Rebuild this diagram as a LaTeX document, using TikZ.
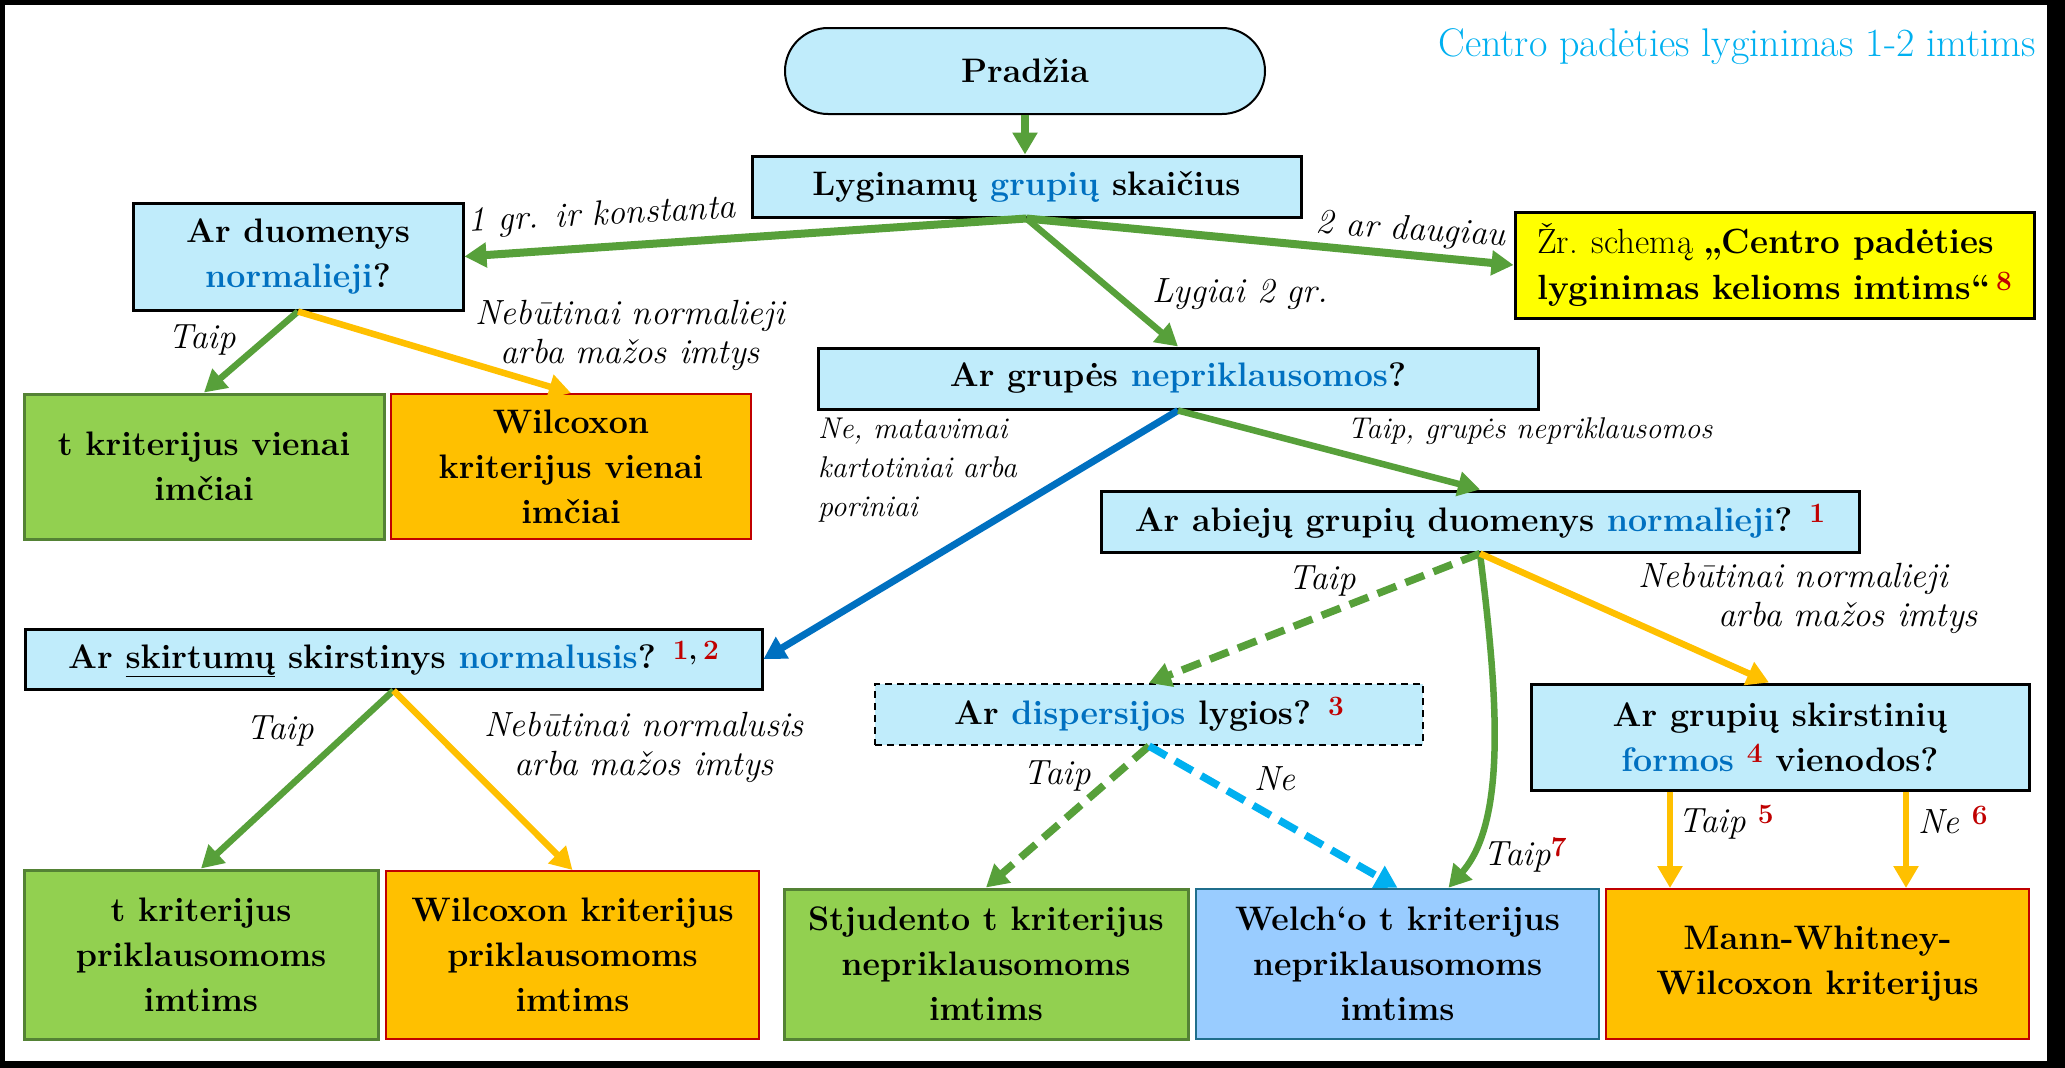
\documentclass[tikz,border=0pt]{standalone}
\usetikzlibrary{arrows.meta,shapes.misc,calc}
\definecolor{qfill}{RGB}{192,236,251}
\definecolor{qblue}{RGB}{0,112,192}
\definecolor{agreen}{RGB}{87,160,58}
\definecolor{ayellow}{RGB}{255,192,0}
\definecolor{acyan}{RGB}{0,176,240}
\definecolor{gfill}{RGB}{146,208,80}
\definecolor{gdraw}{RGB}{84,130,53}
\definecolor{ofill}{RGB}{255,192,0}
\definecolor{odraw}{RGB}{192,0,0}
\definecolor{wfill}{RGB}{153,204,255}
\definecolor{wdraw}{RGB}{31,110,140}
\definecolor{supred}{RGB}{192,0,0}
\definecolor{ybfill}{RGB}{255,255,0}
\newcommand{\qb}[1]{\textcolor{qblue}{#1}}
\newcommand{\rsup}[1]{\raisebox{9pt}{\fontsize{28}{28}\selectfont\bfseries\upshape\textcolor{supred}{#1}}}
\newcommand{\ksup}[1]{\raisebox{9pt}{\fontsize{28}{28}\selectfont\bfseries\upshape #1}}
\begin{document}
\begin{tikzpicture}[x=1pt,y=-1pt,
  box/.style={draw, line width=3pt, align=center, inner sep=0pt, font=\fontsize{34}{45}\selectfont\bfseries},
  qbox/.style={box, fill=qfill, draw=black},
  gbox/.style={box, fill=gfill, draw=gdraw},
  obox/.style={box, fill=ofill, draw=odraw, line width=2pt},
  wbox/.style={box, fill=wfill, draw=wdraw, line width=2.5pt},
  lbl/.style={font=\fontsize{35}{39}\selectfont\itshape, inner sep=0pt, align=center},
  slbl/.style={font=\fontsize{30}{39}\selectfont\itshape, inner sep=0pt, align=left},
  arr/.style={line width=6.5pt, -{Triangle[width=24pt,length=22pt]}},
  dsh/.style={dash pattern=on 20pt off 10pt}
]
\useasboundingbox (0,0) rectangle (2065,1068);
\fill[black] (0,0) rectangle (2065,1068);
\fill[white] (5,5) rectangle (2047,1061);

% title
\node[anchor=base east, font=\fontsize{40}{46}\selectfont, text=acyan, inner sep=0pt] (title) at (2036,56) {Centro padėties lyginimas 1-2 imtims};

% boxes
\node[qbox, shape=rounded rectangle, line width=2pt, minimum width=480pt, minimum height=86pt] (start) at (1025,71) {Pradžia};
\node[qbox, minimum width=549pt, minimum height=61pt] (lyg) at (1026.5,186.5) {Lyginamų \qb{grupių} skaičius};
\node[qbox, minimum width=330pt, minimum height=107pt] (dm) at (298,256.5) {Ar duomenys\\\qb{normalieji}?};
\node[box, fill=ybfill, draw=black, align=left, minimum width=519pt, minimum height=106pt, font=\fontsize{35}{46}\selectfont] (yb) at (1774.5,265) {Žr. schemą \textbf{„Centro padėties}\\\textbf{lyginimas kelioms imtims“}\,\rsup{8}};
\node[qbox, minimum width=720pt, minimum height=61pt] (grp) at (1178,378.5) {Ar grupės \qb{nepriklausomos}?};
\node[qbox, minimum width=758pt, minimum height=61pt] (ab) at (1480,521.5) {Ar abiejų grupių duomenys \qb{normalieji}? \rsup{1}};
\node[gbox, minimum width=360pt, minimum height=145pt] (tk1) at (204,466.5) {t kriterijus vienai\\imčiai};
\node[obox, minimum width=360pt, minimum height=145pt] (wil1) at (571,466.5) {Wilcoxon\\kriterijus vienai\\imčiai};
\node[qbox, minimum width=737pt, minimum height=60pt] (sk) at (393.5,659) {Ar \underline{skirtumų} skirstinys \qb{normalusis}? \rsup{1}\ksup{,}\,\rsup{2}};
\node[qbox, line width=2pt, dash pattern=on 7pt off 5pt, minimum width=548pt, minimum height=61pt] (disp) at (1149,714.5) {Ar \qb{dispersijos} lygios? \rsup{3}};
\node[qbox, minimum width=498pt, minimum height=106pt] (form) at (1780,737) {Ar grupių skirstinių\\\qb{formos} \rsup{4} vienodos?};
\node[gbox, minimum width=354pt, minimum height=169pt] (tk2) at (201,954.5) {t kriterijus\\priklausomoms\\imtims};
\node[obox, minimum width=373pt, minimum height=168pt] (wil2) at (572.5,955) {Wilcoxon kriterijus\\priklausomoms\\imtims};
\node[gbox, minimum width=404pt, minimum height=150pt] (stj) at (986,964) {Stjudento t kriterijus\\nepriklausomoms\\imtims};
\node[wbox, minimum width=403pt, minimum height=150pt] (welch) at (1397.5,964) {Welch‘o t kriterijus\\nepriklausomoms\\imtims};
\node[obox, minimum width=423pt, minimum height=150pt] (mw) at (1817.5,964) {Mann-Whitney-\\Wilcoxon kriterijus};

% connectors
\draw[arr, agreen, line width=8pt] (start.south) -- (start.south |- lyg.north);
\draw[arr, agreen, line width=8pt] (lyg.south) -- (dm.east);
\draw[arr, agreen, line width=8pt] (lyg.south) -- (yb.west);
\draw[arr, agreen] (lyg.south) -- (grp.north);
\draw[arr, qblue, line width=7pt] (grp.south) -- (sk.east);
\draw[arr, agreen] (grp.south) -- (ab.north);
\draw[arr, agreen] (dm.south) -- (tk1.north);
\draw[arr, ayellow] (dm.south) -- (wil1.north);
\draw[arr, agreen] (sk.south) -- (tk2.north);
\draw[arr, ayellow] (sk.south) -- (wil2.north);
\draw[arr, agreen, line width=7.5pt, dsh] (ab.south) -- (disp.north);
\draw[arr, agreen] (ab.south) .. controls (1497,690) and (1508,820) .. ([xshift=51pt]welch.north);
\draw[arr, ayellow] (ab.south) -- ([xshift=-11pt]form.north);
\draw[arr, agreen, line width=7.5pt, dsh] (disp.south) -- (stj.north);
\draw[arr, acyan, line width=7.5pt, dsh] (disp.south) -- (welch.north);
\draw[arr, ayellow] ([xshift=-110pt]form.south) -- ([xshift=-110pt]form.south |- mw.north);
\draw[arr, ayellow] ([xshift=126pt]form.south) -- ([xshift=126pt]form.south |- mw.north);

% labels
\node[lbl, rotate=3] (l1) at (602,216) {1 gr. ir konstanta};
\node[lbl, rotate=-4] (l2) at (1411,231) {2 ar daugiau};
\node[lbl] (l3) at (1240,294) {Lygiai 2 gr.};
\node[lbl] (l4) at (202,340) {Taip};
\node[lbl] (l5) at (630,335) {Nebūtinai normalieji\\arba mažos imtys};
\node[slbl] (l6) at (1530,431) {Taip, grupės nepriklausomos};
\node[slbl, anchor=north west] (l7) at (818,418) {Ne, matavimai\\kartotiniai arba\\poriniai};
\node[lbl] (l8) at (1322,581) {Taip};
\node[lbl, align=left, anchor=north west] (l9) at (1638,563) {Nebūtinai normalieji\\\hspace*{80pt}arba mažos imtys};
\node[lbl] (l10) at (280,731) {Taip};
\node[lbl] (l11) at (644,747) {Nebūtinai normalusis\\arba mažos imtys};
\node[lbl] (l12) at (1057,776) {Taip};
\node[lbl] (l13) at (1275,779) {Ne};
\node[lbl] (l14) at (1525,855) {Taip\rsup{7}};
\node[lbl] (l15) at (1726,822) {Taip \rsup{5}};
\node[lbl] (l16) at (1953,820) {Ne \rsup{6}};
\end{tikzpicture}
\end{document}
